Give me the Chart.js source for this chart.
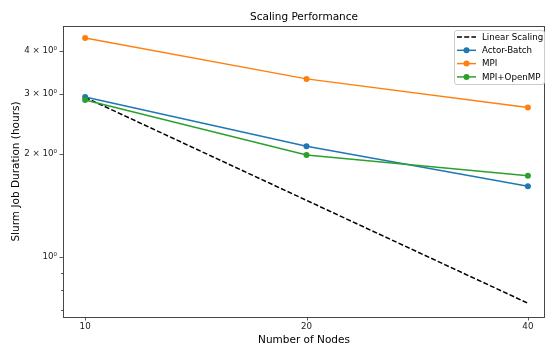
<!DOCTYPE html>
<html>
<head>
<meta charset="utf-8">
<script src="https://cdn.jsdelivr.net/npm/chart.js@4.4.1/dist/chart.umd.min.js"></script>
<style>
  html, body { margin: 0; padding: 0; background: #fff; }
  canvas { display: block; }
</style>
</head>
<body>
<canvas id="chart" width="548" height="347"></canvas>
<script>
'use strict';

// values (log-log plot)
const nodes = [10, 20, 40];
const linearScaling = [2.93, 1.465, 0.733];
const actorBatch = [2.94, 2.11, 1.61];
const mpi = [4.37, 3.32, 2.74];
const mpiOpenmp = [2.88, 1.99, 1.73];

const xTickLabels = ['10', '20', '40'];
const yMajorTicks = [1, 2, 3, 4];
const yTickLabels = ['10\u2070', '2 \u00d7 10\u2070', '3 \u00d7 10\u2070', '4 \u00d7 10\u2070'];
const yMinorTicks = [0.7, 0.8, 0.9];

const FONT = "'DejaVu Sans', sans-serif";

function points(ys) {
  return nodes.map((x, i) => ({ x: x, y: ys[i] }));
}

const series = [
  { label: 'Linear Scaling', data: linearScaling, color: '#000000', dash: [5, 2.2], marker: false },
  { label: 'Actor-Batch', data: actorBatch, color: '#1f77b4', dash: [], marker: true },
  { label: 'MPI', data: mpi, color: '#ff7f0e', dash: [], marker: true },
  { label: 'MPI+OpenMP', data: mpiOpenmp, color: '#2ca02c', dash: [], marker: true },
];

// frame, tick marks, titles and legend in matplotlib style
const decorations = {
  id: 'decorations',
  afterDraw(chart) {
    const ctx = chart.ctx;
    const area = chart.chartArea;
    const xs = chart.scales.x;
    const ys = chart.scales.y;
    ctx.save();

    // ticks
    ctx.strokeStyle = '#333';
    ctx.lineWidth = 0.8;
    ctx.beginPath();
    nodes.forEach(v => {
      const px = Math.round(xs.getPixelForValue(v)) + 0.5;
      ctx.moveTo(px, area.bottom);
      ctx.lineTo(px, area.bottom + 3.5);
    });
    yMajorTicks.forEach(v => {
      const py = Math.round(ys.getPixelForValue(v)) + 0.5;
      ctx.moveTo(area.left, py);
      ctx.lineTo(area.left - 3.5, py);
    });
    yMinorTicks.forEach(v => {
      const py = Math.round(ys.getPixelForValue(v)) + 0.5;
      ctx.moveTo(area.left, py);
      ctx.lineTo(area.left - 2, py);
    });
    ctx.stroke();

    // frame
    ctx.strokeStyle = '#333';
    ctx.lineWidth = 0.9;
    ctx.strokeRect(Math.round(area.left) + 0.5, Math.round(area.top) + 0.5,
      Math.round(area.right - area.left) - 1, Math.round(area.bottom - area.top));

    // titles
    ctx.fillStyle = '#000';
    ctx.textAlign = 'center';
    ctx.textBaseline = 'middle';
    ctx.font = '10.5px ' + FONT;
    ctx.fillText('Scaling Performance', (area.left + area.right) / 2, 17);
    ctx.fillText('Number of Nodes', (area.left + area.right) / 2, 340);
    ctx.translate(16, (area.top + area.bottom) / 2);
    ctx.rotate(-Math.PI / 2);
    ctx.fillText('Slurm Job Duration (hours)', 0, 0);
    ctx.setTransform(1, 0, 0, 1, 0, 0);

    // legend
    const bx = 454, by = 30, bw = 90, bh = 54;
    ctx.beginPath();
    ctx.roundRect(bx + 0.5, by + 0.5, bw, bh, 2.5);
    ctx.fillStyle = 'rgba(255,255,255,0.8)';
    ctx.fill();
    ctx.strokeStyle = '#cccccc';
    ctx.lineWidth = 1;
    ctx.stroke();

    ctx.font = '8.7px ' + FONT;
    ctx.textAlign = 'left';
    ctx.textBaseline = 'middle';
    series.forEach((s, i) => {
      const cy = 37 + i * 13.3;
      ctx.strokeStyle = s.color;
      ctx.lineWidth = 1.5;
      ctx.setLineDash(s.dash);
      ctx.beginPath();
      ctx.moveTo(457, cy);
      ctx.lineTo(476, cy);
      ctx.stroke();
      ctx.setLineDash([]);
      if (s.marker) {
        ctx.fillStyle = s.color;
        ctx.beginPath();
        ctx.arc(466.5, cy, 3, 0, Math.PI * 2);
        ctx.fill();
      }
      ctx.fillStyle = '#000';
      ctx.fillText(s.label, 482, cy + 0.5);
    });

    ctx.restore();
  }
};

const context = document.getElementById('chart').getContext('2d');

const chart = new Chart(context, {
  type: 'line',
  data: {
    datasets: series.map(s => ({
      label: s.label,
      data: points(s.data),
      borderColor: s.color,
      backgroundColor: s.color,
      borderWidth: 1.5,
      borderDash: s.dash,
      pointRadius: s.marker ? 3 : 0,
      pointBorderWidth: 0,
      pointHoverRadius: s.marker ? 3 : 0,
      tension: 0,
      fill: false,
    })).reverse(),
  },
  options: {
    responsive: false,
    animation: false,
    events: [],
    layout: { padding: { top: 26, right: 1, left: 0, bottom: 0 } },
    plugins: {
      legend: { display: false },
      title: { display: false },
      tooltip: { enabled: false },
    },
    scales: {
      x: {
        type: 'logarithmic',
        min: 9.33,
        max: 42.2,
        afterFit: s => { s.height = 30; },
        afterBuildTicks: s => { s.ticks = nodes.map(v => ({ value: v })); },
        grid: { display: false, drawTicks: false },
        border: { display: false },
        ticks: {
          autoSkip: false,
          maxRotation: 0,
          padding: 5,
          color: '#222',
          font: { family: FONT, size: 8.7 },
          callback: (v) => xTickLabels[nodes.indexOf(v)] ?? '',
        },
      },
      y: {
        type: 'logarithmic',
        min: 0.668,
        max: 4.74,
        afterFit: s => { s.width = 63; },
        afterBuildTicks: s => { s.ticks = yMajorTicks.map(v => ({ value: v })); },
        grid: { display: false, drawTicks: false },
        border: { display: false },
        ticks: {
          autoSkip: false,
          padding: 6,
          color: '#222',
          font: { family: FONT, size: 8.7 },
          callback: (v) => yTickLabels[yMajorTicks.indexOf(v)] ?? '',
        },
      },
    },
  },
  plugins: [decorations],
});
</script>
</body>
</html>
